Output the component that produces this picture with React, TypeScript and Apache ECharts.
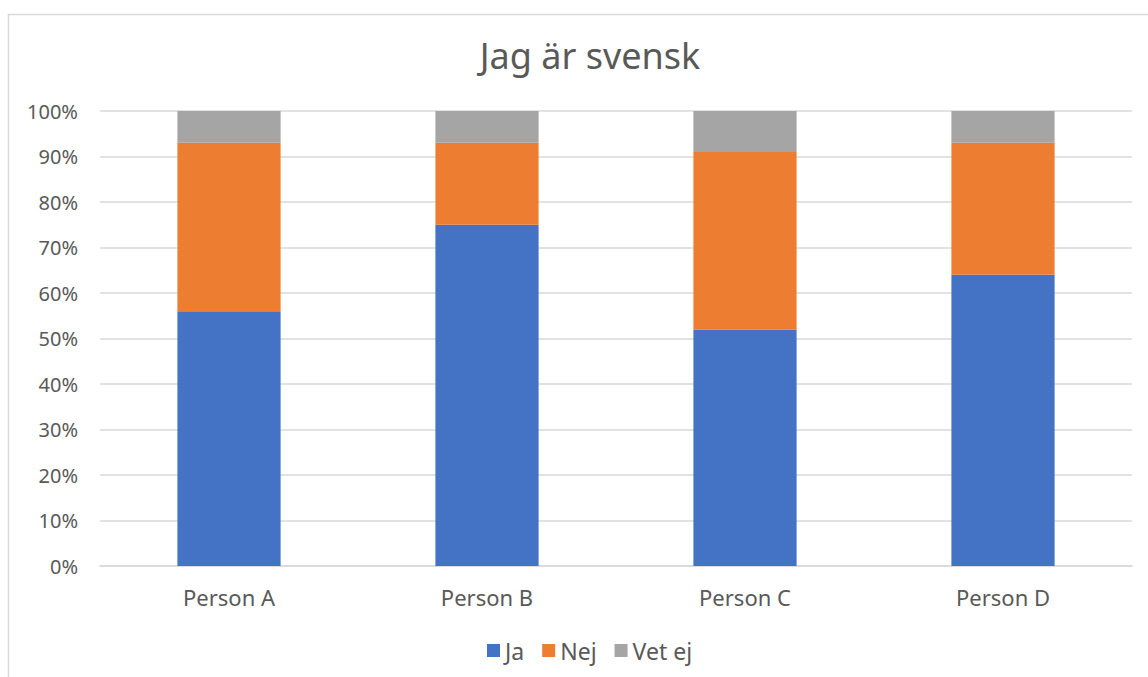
import React, { useEffect, useRef } from "react";
import * as echarts from "echarts";

const categories = ["Person A", "Person B", "Person C", "Person D"];
const seriesNames = ["Ja", "Nej", "Vet ej"];
const jaValues = [56, 75, 52, 64];
const nejValues = [37, 18, 39, 29];
const vetEjValues = [7, 7, 9, 7];
const colors = ["#4472C4", "#ED7D31", "#A5A5A5"];
const titleText = "Jag är svensk";

const FONT = "'Noto Sans', 'Open Sans', sans-serif";

export default function App() {
  const ref = useRef<HTMLDivElement>(null);
  useEffect(() => {
    if (!ref.current) return;
    const chart = echarts.init(ref.current, null, { renderer: "svg" });
    const values = [jaValues, nejValues, vetEjValues];
    chart.setOption({
      animation: false,
      backgroundColor: "#ffffff",
      textStyle: { fontFamily: FONT },
      title: {
        text: titleText,
        left: 585,
        top: 32,
        textAlign: "center",
        textStyle: { fontSize: 36, fontWeight: "normal", color: "#595959", fontFamily: FONT },
      },
      graphic: [
        {
          type: "rect",
          silent: true,
          shape: { x: 8.5, y: 14.5, width: 1300, height: 800 },
          style: { fill: "none", stroke: "#d9d9d9", lineWidth: 1.5 },
        },
      ],
      legend: {
        data: seriesNames,
        left: 482,
        top: 634,
        itemWidth: 13,
        itemHeight: 13,
        itemGap: 18,
        icon: "rect",
        textStyle: { fontSize: 23, color: "#595959", fontFamily: FONT },
      },
      grid: { left: 100, right: 16, top: 111, bottom: 111, containLabel: false },
      xAxis: {
        type: "category",
        data: categories,
        axisLine: { show: true, lineStyle: { color: "#d9d9d9", width: 1.5 } },
        axisTick: { show: false },
        axisLabel: { fontSize: 22, color: "#595959", margin: 20, fontFamily: FONT },
      },
      yAxis: {
        type: "value",
        min: 0,
        max: 100,
        interval: 10,
        axisLine: { show: false },
        axisTick: { show: false },
        axisLabel: { fontSize: 20, color: "#595959", margin: 22, formatter: "{value}%", fontFamily: FONT },
        splitLine: { lineStyle: { color: "#d9d9d9", width: 1.5 } },
      },
      series: seriesNames.map((name, i) => ({
        name,
        type: "bar",
        stack: "total",
        barWidth: "40%",
        data: values[i],
        itemStyle: { color: colors[i] },
      })),
    });
    return () => chart.dispose();
  }, []);
  return <div ref={ref} style={{ position: "fixed", left: 0, top: 0, width: 1148, height: 677 }} />;
}
